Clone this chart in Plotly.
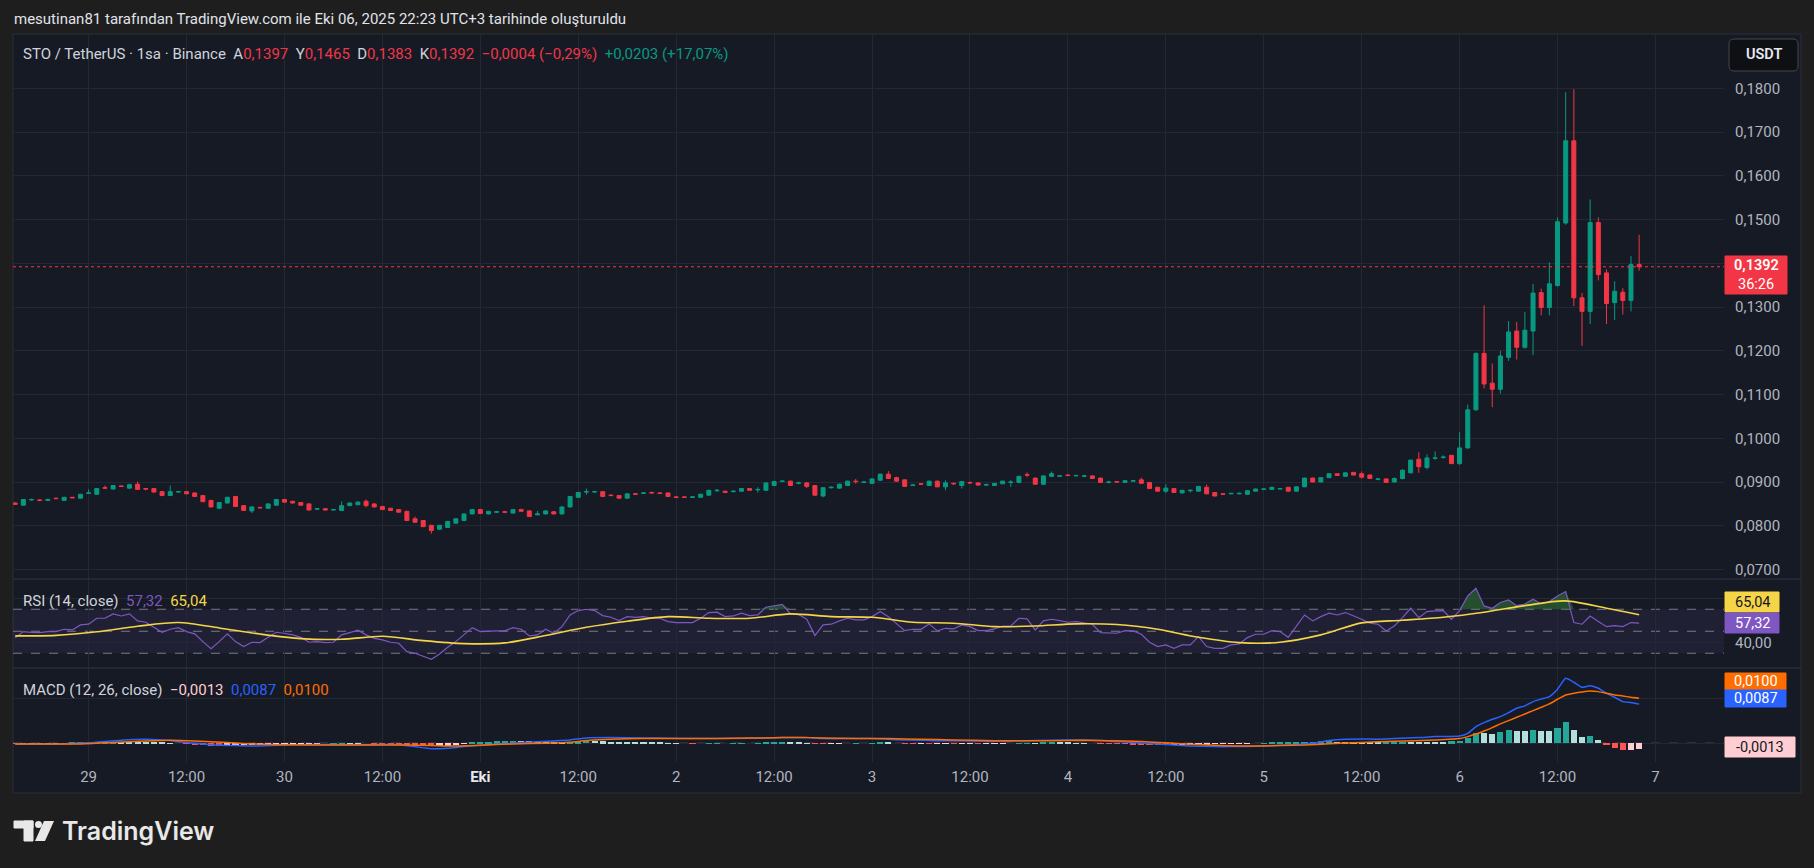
import plotly.graph_objects as go
import pandas as pd

# ---------------- DATA ----------------
start_time = "2025-09-28 15:00"
n_candles = 200

open_ = [.0852,.0847,.0859,.0859,.0858,.0863,.0858,.0865,.0863,.0874,.0872,.0887,.0884,.0891,.0886,.0895,.0885,.0885,.0878,.0869,
         .0877,.0878,.0875,.0869,.0858,.0840,.0852,.0867,.0846,.0834,.0842,.0840,.0847,.0860,.0856,.0853,.0850,.0838,.0839,.0836,
         .0835,.0846,.0848,.0856,.0850,.0844,.0840,.0837,.0833,.0816,.0812,.0801,.0792,.0796,.0806,.0812,.0827,.0837,.0827,.0831,
         .0832,.0829,.0837,.0834,.0825,.0827,.0832,.0827,.0843,.0865,.0877,.0877,.0878,.0870,.0869,.0863,.0873,.0874,.0876,.0875,.0875,
         .0866,.0866,.0865,.0865,.0870,.0880,.0879,.0878,.0879,.0885,.0882,.0881,.0892,.0901,.0902,.0897,.0898,.0892,.0868,.0887,
         .0886,.0892,.0902,.0899,.0897,.0904,.0918,.0910,.0905,.0892,.0896,.0892,.0902,.0889,.0897,.0892,.0899,.0898,.0893,.0892,
         .0896,.0899,.0899,.0917,.0909,.0895,.0913,.0913,.0916,.0914,.0913,.0914,.0909,.0899,.0901,.0899,.0902,.0905,.0899,.0888,
         .0879,.0885,.0875,.0880,.0879,.0888,.0876,.0873,.0873,.0873,.0872,.0879,.0883,.0883,.0884,.0888,.0879,.0889,.0909,.0900,.0910,
         .0919,.0913,.0922,.0919,.0916,.0906,.0907,.0900,
         .0908,.0921,.0952,.0933,.0954,.0956,.0961,.0942,.0978,.1065,.1194,.1126,.1112,.1185,.1245,.1208,.1245,.1333,.1299,.1349,
         .1492,.1680,.1321,.1290,.1493,.1378,.1310,.1334,.1315,.1397]
high = [.0854,.0861,.0862,.0861,.0862,.0864,.0866,.0866,.0873,.0883,.0886,.0892,.0893,.0892,.0895,.0901,.0886,.0886,.0879,.0892,
        .0879,.0879,.0876,.0870,.0859,.0854,.0866,.0868,.0847,.0844,.0843,.0851,.0861,.0861,.0857,.0854,.0851,.0840,.0840,.0838,
        .0856,.0853,.0856,.0860,.0851,.0845,.0841,.0838,.0834,.0821,.0813,.0802,.0802,.0811,.0817,.0828,.0838,.0838,.0834,.0834,
        .0834,.0838,.0839,.0835,.0834,.0835,.0833,.0844,.0868,.0877,.0885,.0880,.0879,.0872,.0870,.0874,.0875,.0876,.0878,.0876,.0876,
        .0867,.0866,.0867,.0873,.0882,.0884,.0880,.0880,.0886,.0886,.0888,.0899,.0903,.0904,.0903,.0901,.0900,.0893,.0888,.0890,
        .0896,.0903,.0907,.0901,.0908,.0919,.0925,.0912,.0906,.0895,.0897,.0903,.0903,.0904,.0899,.0902,.0901,.0899,.0896,.0898,
        .0903,.0904,.0914,.0922,.0910,.0915,.0924,.0915,.0917,.0916,.0916,.0915,.0910,.0903,.0901,.0904,.0905,.0910,.0900,.0889,
        .0895,.0886,.0882,.0883,.0891,.0894,.0877,.0874,.0875,.0876,.0881,.0885,.0885,.0889,.0886,.0889,.0890,.0910,.0910,.0911,.0920,
        .0920,.0922,.0923,.0924,.0917,.0909,.0908,.0911,
        .0929,.0951,.0968,.0963,.0970,.0961,.0962,.1014,.1077,.1196,.1304,.1171,.1200,.1268,.1266,.1289,.1353,.1342,.1402,.1505,
        .1791,.1798,.1332,.1546,.1505,.1386,.1359,.1343,.1417,.1465]
low = [.0848,.0846,.0857,.0856,.0857,.0861,.0857,.0863,.0862,.0873,.0871,.0885,.0883,.0889,.0885,.0882,.0881,.0876,.0868,.0868,
       .0876,.0872,.0866,.0854,.0842,.0838,.0851,.0843,.0834,.0829,.0840,.0839,.0846,.0853,.0851,.0846,.0835,.0836,.0835,.0835,
       .0834,.0845,.0847,.0842,.0842,.0836,.0834,.0830,.0811,.0807,.0797,.0782,.0791,.0795,.0805,.0811,.0826,.0827,.0826,.0829,
       .0829,.0828,.0832,.0820,.0824,.0826,.0826,.0826,.0842,.0864,.0871,.0876,.0866,.0868,.0862,.0862,.0871,.0873,.0874,.0873,.0866,
       .0863,.0864,.0864,.0864,.0869,.0878,.0875,.0876,.0878,.0880,.0876,.0880,.0891,.0900,.0891,.0895,.0886,.0869,.0865,.0885,
       .0885,.0891,.0896,.0898,.0896,.0903,.0907,.0900,.0889,.0891,.0893,.0891,.0888,.0881,.0893,.0885,.0896,.0892,.0891,.0891,
       .0895,.0889,.0898,.0911,.0894,.0894,.0911,.0912,.0914,.0913,.0911,.0907,.0898,.0897,.0899,.0898,.0900,.0896,.0884,.0878,
       .0875,.0875,.0874,.0876,.0878,.0872,.0867,.0871,.0872,.0872,.0871,.0878,.0882,.0882,.0883,.0878,.0878,.0888,.0899,.0899,.0909,
       .0914,.0912,.0915,.0908,.0907,.0904,.0898,.0899,
       .0906,.0920,.0921,.0929,.0951,.0953,.0941,.0939,.0976,.1063,.1114,.1071,.1102,.1177,.1180,.1205,.1190,.1281,.1281,.1347,
       .1488,.1302,.1211,.1261,.1361,.1261,.1270,.1283,.1290,.1383]
close = [.0849,.0860,.0860,.0858,.0860,.0862,.0865,.0864,.0872,.0875,.0885,.0886,.0892,.0890,.0894,.0883,.0884,.0877,.0869,.0878,
         .0878,.0873,.0867,.0855,.0843,.0853,.0865,.0844,.0835,.0843,.0841,.0850,.0860,.0854,.0852,.0847,.0836,.0839,.0836,.0837,
         .0846,.0852,.0854,.0846,.0843,.0837,.0835,.0831,.0812,.0808,.0798,.0789,.0801,.0810,.0816,.0827,.0837,.0828,.0833,.0832,
         .0831,.0837,.0833,.0821,.0827,.0834,.0827,.0843,.0867,.0876,.0878,.0878,.0867,.0869,.0863,.0873,.0872,.0875,.0875,.0874,.0867,
         .0865,.0865,.0866,.0872,.0881,.0881,.0876,.0879,.0885,.0881,.0883,.0898,.0901,.0902,.0892,.0898,.0890,.0870,.0887,.0888,
         .0895,.0902,.0901,.0900,.0907,.0918,.0908,.0902,.0890,.0893,.0895,.0902,.0889,.0898,.0896,.0901,.0898,.0893,.0894,.0897,
         .0902,.0900,.0913,.0916,.0895,.0914,.0919,.0914,.0915,.0915,.0914,.0908,.0899,.0900,.0900,.0903,.0903,.0897,.0885,.0879,
         .0886,.0876,.0881,.0881,.0890,.0873,.0868,.0872,.0874,.0874,.0880,.0884,.0884,.0888,.0885,.0879,.0889,.0909,.0900,.0910,.0919,
         .0915,.0921,.0916,.0911,.0908,.0907,.0899,.0908,
         .0927,.0950,.0935,.0955,.0955,.0957,.0942,.0978,.1065,.1194,.1124,.1112,.1188,.1243,.1208,.1247,.1332,.1299,.1353,.1495,
         .1680,.1321,.1290,.1493,.1374,.1308,.1336,.1315,.1397,.1392]

rsi = [44,49.7,49,48.8,49.7,49.7,51.8,51.2,55.8,56.4,61.8,61.8,65.8,63.9,65.8,59.4,58.2,53.6,49.1,51.8,
       53.3,49.7,47.6,40.6,34.2,40.6,47.6,40.6,36.1,40,39.7,44.5,49.1,48.2,46.7,44.5,40,40.6,39.7,40,
       46.7,48.8,50.9,46.7,43.6,42.1,40,39.1,31.5,30,27.6,24.5,29.4,35.5,40.6,47.3,53.3,49.7,50.3,50.3,
       50.3,53.3,51.8,45.8,46.7,51.8,48.2,54.2,64.8,68.8,70,68.8,64.2,62.7,59.7,63.3,62.7,63.3,61.8,61.8,58.8,
       57.9,57.9,57.9,61.8,67,67.3,63.3,63.9,66.4,64.2,64.8,71.8,73,74.5,65.8,65.2,60.9,46.1,55.8,56.4,
       59.4,61.8,60.3,60.3,63.3,67.9,63.3,57.3,50.6,51.8,51.8,56.7,50.3,52.7,52.1,55.8,54.2,50.6,50.6,52.1,
       54.8,54.8,61.8,61.2,51.2,59.4,60.9,59.7,58.2,58.8,57.3,56.4,48.8,48.8,48.2,50.6,50.3,47.3,40,36.1,
       37.6,34.5,37.6,37.6,45.2,36.1,34.5,34.5,37.6,38.5,44.2,47.3,47.3,50.6,49.7,44.5,54.2,64.8,59.4,63.3,66.4,
       64.8,67,64.2,60.9,57.3,56.4,50.3,54.8,62.4,70.9,62.4,67.9,68.5,68.8,60.9,68.8,82.1,89.1,73,70.9,
       76.1,78.5,73.3,74.8,79.1,74.8,77,82.1,86.1,57.9,56.4,63.9,58.8,54.2,55.2,54.2,57.9,57.32]

rsi_ma_idx = [0,5,10,15,20,25,30,35,40,45,50,55,60,65,70,75,80,85,90,95,100,105,110,115,120,
              125,130,135,140,145,150,155,160,165,170,175,180,185,190,195,199]
rsi_ma = [45.8,46.3,49.5,54.5,57.9,53,47.5,43.3,42.7,45.5,41.5,38.8,39.4,46.1,53.6,59.1,63.3,61.8,61.8,65.8,63.3,62.7,58.2,57.3,54.2,
          54.8,56.7,56.1,51.8,44.5,39.7,40,46.7,57.6,60,62.7,67.3,73.3,77.6,70.9,65.04]

macd_idx = [0,5,9,13,16,19,21,24,27,29,32,35,40,44,47,49,51,53,55,58,62,66,68,70,73,77,80,84,90,94,97,99,105,107,109,113,117,
            121,125,129,131,134,137,140,142,144,147,149,152,155,158,160,161,163,165,167,169,172,174,177,
            178,179,180,181,182,183,184,185,186,187,188,189,190,191,192,193,194,195,196,197,198,199]
macd_line = [-0.0002,-0.0002,0.0001,0.0007,0.0009,0.0006,0.00015,-0.0003,-0.0005,-0.0006,-0.00045,-0.0003,-0.0003,-0.0003,-0.0003,
             -0.00074,-0.0012,-0.0011,-0.00074,-0.0003,0.00015,0.00052,0.00074,0.0012,0.00126,0.0012,0.0011,0.00104,0.0011,0.0013,
             0.00126,0.00104,0.00104,0.00089,0.00074,0.00059,0.00052,
             0.00044,0.0006,0.00074,0.00074,0.00052,0.00015,-0.00015,-0.00037,-0.0006,-0.00074,-0.00074,-0.00067,-0.00044,-0.00015,
             0.0003,0.0006,0.00089,0.00096,0.00089,0.00104,0.00126,0.00148,0.00163,
             0.00222,0.0037,0.00459,0.00533,0.00593,0.00681,0.00778,0.0083,0.00926,0.00985,0.01037,0.012,0.01444,0.01356,0.01244,
             0.01281,0.01222,0.01111,0.01022,0.00926,0.00904,0.0087]

signal_idx = [0,8,12,16,19,22,26,29,32,36,40,44,48,51,54,57,61,65,68,70,73,77,80,84,88,92,96,99,103,107,111,115,120,
              127,131,134,138,141,144,147,150,153,155,158,161,165,169,174,177,
              178,179,180,181,182,183,184,185,186,187,188,189,190,191,192,193,194,195,196,197,198,199]
signal_line = [-0.00015,-0.00015,0.0002,0.00052,0.00067,0.00052,0.00015,-0.00015,-0.0003,-0.00037,-0.00037,-0.00037,-0.0004,
               -0.0005,-0.0006,-0.00044,-0.00015,0.0,0.00022,0.0006,0.0009,0.00104,0.00104,0.00105,0.0011,0.0012,0.0013,0.0012,
               0.00104,0.00104,0.00089,0.00074,0.00059,
               0.00059,0.00067,0.00059,0.0004,0.0001,-0.0002,-0.00044,-0.0006,-0.0006,-0.0005,-0.0004,-0.0001,0.0002,0.00044,
               0.00074,0.00104,
               0.00148,0.00207,0.00274,0.00348,0.0043,0.00504,0.00578,0.00652,0.00726,0.008,0.00874,0.00978,0.01074,0.01111,
               0.01141,0.01163,0.01148,0.01111,0.01074,0.01052,0.01022,0.0100]

macd_hist = [-0.00005,-0.00005,-0.00004,-0.00004,-0.00003,-0.00003,-0.00002,
             0.0001,0.00015,0.0002,0.00025,0.0003,0.00035,
             0.0003,0.00028,0.00025,0.0002,0.00015,0.0001,
             0.00005,0.0,-0.00005,
             -0.0002,-0.0004,-0.0005,-0.0006,-0.0005,-0.00045,
             -0.0004,-0.00035,-0.0003,-0.00025,-0.0002,-0.00015,-0.0001,-0.00008,-0.00005,-0.00003,0.0,0.00002,0.00003,
             0.00003,0.00002,0.0,-0.00002,-0.00005,-0.0001,
             -0.0002,-0.0004,-0.0005,-0.0006,-0.0007,
             -0.0006,-0.0005,-0.0003,-0.0001,
             0.0001,0.0002,0.0003,0.0004,0.0005,0.0006,
             0.0005,0.0004,0.0003,0.00025,0.0002,0.0002,
             0.0003,0.0004,0.0005,0.0005,0.0004,
             0.00035,0.0003,0.00025,0.0002,0.00015,0.0001,0.0001,0.00005,
             0.00003,0.0,-0.00002,0.0,0.00002,0.00003,0.0,0.00002,0.00005,0.0,0.00005,
             0.0001,0.00015,0.0002,0.00015,
             0.0001,0.00005,
             -0.0001,-0.00015,-0.0001,
             -0.00005,0.0,0.00002,0.0,0.00003,
             0.0001,0.00008,
             0.0,-0.00005,-0.0001,-0.00008,-0.00012,-0.0001,-0.00008,-0.0001,-0.00005,-0.00005,-0.0001,-0.00008,-0.00005,
             -0.00003,0.0,0.00003,0.00005,0.00005,0.00008,0.0001,0.0001,0.00008,0.00005,0.00003,0.0,-0.00005,-0.0001,-0.00012,-0.00015,
             -0.0002,-0.00025,-0.0003,-0.00035,-0.0004,-0.0004,
             -0.00035,-0.0003,-0.00025,-0.0002,-0.00015,-0.0001,-0.00008,-0.00005,-0.00002,0.0,
             0.00005,0.0001,0.00012,0.00015,0.0002,0.00025,0.0003,0.0004,0.0005,
             0.0003,0.00025,0.0002,0.00015,0.0001,0.0001,0.00015,0.0002,
             0.0003,0.0003,0.0003,0.0003,0.0003,0.0003,0.0004,
             0.0006,0.0011,0.0022,0.0022,0.0021,0.0025,0.003,0.0027,0.0027,0.003,0.0027,0.0027,0.0035,0.0048,0.003,
             0.0015,0.0017,0.0007,-0.0003,-0.001,-0.0016,-0.0014,-0.0013]

tick_times = ["2025-09-29 00:00","2025-09-29 12:00","2025-09-30 00:00","2025-09-30 12:00","2025-10-01 00:00",
              "2025-10-01 12:00","2025-10-02 00:00","2025-10-02 12:00","2025-10-03 00:00","2025-10-03 12:00",
              "2025-10-04 00:00","2025-10-04 12:00","2025-10-05 00:00","2025-10-05 12:00","2025-10-06 00:00",
              "2025-10-06 12:00","2025-10-07 00:00"]
tick_labels = ["29","12:00","30","12:00","<b><span style='color:#e6e8ee'>Eki</span></b>","12:00","2","12:00","3","12:00",
               "4","12:00","5","12:00","6","12:00","7"]
price_ticks = [0.07,0.08,0.09,0.10,0.11,0.12,0.13,0.14,0.15,0.16,0.17,0.18]
rsi_ticks = [40, 80]
rsi_tick_labels = ["40,00", ""]

title_text = "mesutinan81 tarafından TradingView.com ile Eki 06, 2025 22:23 UTC+3 tarihinde oluşturuldu"
last_price = 0.1392

# ---------------- GEOMETRY / STYLE ----------------
W, H = 1814, 868
def fx(x): return x / W
def fy(y): return 1 - y / H

UP = "#089981"
DOWN = "#f23645"
GRID = "#242833"
PANEL = "#161a25"
OUTER = "#1e1e1e"
SEP = "#2a2e39"
AXTXT = "#b2b5be"
FONT = "Roboto, Arial, sans-serif"
TS = 15   # text size

times = pd.date_range(start_time, periods=n_candles, freq="h")
x_left = pd.Timestamp(start_time) - pd.Timedelta(minutes=16)
x_right = pd.Timestamp(start_time) + pd.Timedelta(hours=209.4)

fig = go.Figure()

fig.add_trace(go.Candlestick(
    x=times, open=open_, high=high, low=low, close=close,
    increasing=dict(line=dict(color=UP, width=1), fillcolor=UP),
    decreasing=dict(line=dict(color=DOWN, width=1), fillcolor=DOWN),
    xaxis="x", yaxis="y", showlegend=False, hoverinfo="skip"))

# RSI overbought fill
rsi_cap = [max(v, 70) for v in rsi]
fig.add_trace(go.Scatter(x=times, y=[70]*n_candles, mode="lines", line=dict(width=0, color="rgba(0,0,0,0)"),
                         xaxis="x", yaxis="y2", showlegend=False, hoverinfo="skip"))
fig.add_trace(go.Scatter(x=times, y=rsi_cap, mode="lines", line=dict(width=0, color="rgba(0,0,0,0)"),
                         fill="tonexty", fillcolor="rgba(56,142,60,0.45)",
                         xaxis="x", yaxis="y2", showlegend=False, hoverinfo="skip"))
fig.add_trace(go.Scatter(x=times, y=rsi, mode="lines", line=dict(color="#7e57c2", width=1.2),
                         xaxis="x", yaxis="y2", showlegend=False, hoverinfo="skip"))
fig.add_trace(go.Scatter(x=[times[i] for i in rsi_ma_idx], y=rsi_ma, mode="lines",
                         line=dict(color="#f5d547", width=1.6, shape="spline", smoothing=0.8),
                         xaxis="x", yaxis="y2", showlegend=False, hoverinfo="skip"))

# MACD histogram colours
hist_colors = []
prev = 0.0
for h in macd_hist:
    if h >= 0:
        hist_colors.append("#26a69a" if h > prev else "#b2dfdb")
    else:
        hist_colors.append("#ff5252" if h < prev else "#ffcdd2")
    prev = h
fig.add_trace(go.Bar(x=times, y=macd_hist, marker=dict(color=hist_colors, line=dict(width=0)),
                     width=0.75*3600*1000, xaxis="x", yaxis="y3", showlegend=False, hoverinfo="skip"))
fig.add_trace(go.Scatter(x=[times[i] for i in macd_idx], y=macd_line, mode="lines",
                         line=dict(color="#2962ff", width=1.5, shape="spline", smoothing=0.5),
                         xaxis="x", yaxis="y3", showlegend=False, hoverinfo="skip"))
fig.add_trace(go.Scatter(x=[times[i] for i in signal_idx], y=signal_line, mode="lines",
                         line=dict(color="#ff6d00", width=1.5, shape="spline", smoothing=0.5),
                         xaxis="x", yaxis="y3", showlegend=False, hoverinfo="skip"))

shapes = []
# panel
shapes.append(dict(type="rect", xref="paper", yref="paper", x0=fx(13), x1=fx(1801), y0=fy(793), y1=fy(34),
                   fillcolor=PANEL, line=dict(color=SEP, width=1), layer="below"))
# RSI band
shapes.append(dict(type="rect", xref="x domain", yref="y2", x0=0, x1=1, y0=30, y1=70,
                   fillcolor="rgba(126,87,194,0.10)", line=dict(width=0), layer="below"))
for lvl in (70, 50, 30):
    shapes.append(dict(type="line", xref="x domain", yref="y2", x0=0, x1=1, y0=lvl, y1=lvl,
                       line=dict(color="#787b86", width=1, dash="dash"), layer="below"))
# MACD zero line
shapes.append(dict(type="line", xref="x domain", yref="y3", x0=0, x1=1, y0=0, y1=0,
                   line=dict(color="#787b86", width=1, dash="dash"), layer="below"))
# pane separators
for yy in (579, 668):
    shapes.append(dict(type="line", xref="paper", yref="paper", x0=fx(13), x1=fx(1801), y0=fy(yy), y1=fy(yy),
                       line=dict(color=SEP, width=1.5), layer="above"))
# last price dotted line
shapes.append(dict(type="line", xref="x domain", yref="y", x0=0, x1=1, y0=last_price, y1=last_price,
                   line=dict(color=DOWN, width=1, dash="dot"), layer="above"))

def box(x0, y0, x1, y1, fill, line=None):
    shapes.append(dict(type="rect", xref="paper", yref="paper", x0=fx(x0), x1=fx(x1), y0=fy(y1), y1=fy(y0),
                       fillcolor=fill, line=dict(color=line or fill, width=1), layer="above"))

# USDT rounded box
r = 5
ux0, ux1, uy0, uy1 = 1729, 1798, 39, 71
path = (f"M {fx(ux0+r)},{fy(uy0)} L {fx(ux1-r)},{fy(uy0)} Q {fx(ux1)},{fy(uy0)} {fx(ux1)},{fy(uy0+r)} "
        f"L {fx(ux1)},{fy(uy1-r)} Q {fx(ux1)},{fy(uy1)} {fx(ux1-r)},{fy(uy1)} L {fx(ux0+r)},{fy(uy1)} "
        f"Q {fx(ux0)},{fy(uy1)} {fx(ux0)},{fy(uy1-r)} L {fx(ux0)},{fy(uy0+r)} Q {fx(ux0)},{fy(uy0)} {fx(ux0+r)},{fy(uy0)} Z")
shapes.append(dict(type="path", xref="paper", yref="paper", path=path, fillcolor="#0f1014",
                   line=dict(color="#434651", width=1), layer="above"))

box(1725, 256, 1787, 294, DOWN)
box(1725, 592, 1779, 612, "#f5d547")
box(1725, 613, 1779, 633, "#7e57c2")
box(1725, 673, 1786, 690, "#ff6d00")
box(1725, 690, 1786, 707, "#2962ff")
box(1725, 737, 1795, 757, "#ffcdd2")

# TradingView logo
LOGO = "#e8e8e8"
box(14, 821, 33, 828, LOGO)
box(24, 821, 33, 841, LOGO)
shapes.append(dict(type="circle", xref="paper", yref="paper", x0=fx(35), x1=fx(42), y0=fy(828), y1=fy(821),
                   fillcolor=LOGO, line=dict(color=LOGO, width=0), layer="above"))
shapes.append(dict(type="path", xref="paper", yref="paper",
                   path=f"M {fx(44)},{fy(821)} L {fx(54)},{fy(821)} L {fx(45)},{fy(841)} L {fx(35)},{fy(841)} Z",
                   fillcolor=LOGO, line=dict(color=LOGO, width=0), layer="above"))

sp = "\u00a0"
R = "#f23645"
G = "#089981"
TXT = "#d1d4dc"
legend_text = (f"STO / TetherUS · 1sa · Binance{sp*2}A<span style='color:{R}'>0,1397</span>{sp*2}"
               f"Y<span style='color:{R}'>0,1465</span>{sp*2}D<span style='color:{R}'>0,1383</span>{sp*2}"
               f"K<span style='color:{R}'>0,1392</span>{sp*2}<span style='color:{R}'>−0,0004 (−0,29%)</span>{sp*2}"
               f"<span style='color:{G}'>+0,0203 (+17,07%)</span>")
rsi_text = (f"RSI (14, close){sp*2}<span style='color:#7e57c2'>57,32</span>{sp*2}"
            f"<span style='color:#f5d547'>65,04</span>")
macd_text = (f"MACD (12, 26, close){sp*2}<span style='color:#ffcdd2'>−0,0013</span>{sp*2}"
             f"<span style='color:#2962ff'>0,0087</span>{sp*2}<span style='color:#ff6d00'>0,0100</span>")

def ann(x, y, text, size=TS, color=TXT, xanchor="left", weight=None, family=FONT):
    f = dict(size=size, color=color, family=family)
    if weight:
        f["weight"] = weight
    return dict(xref="paper", yref="paper", x=fx(x), y=fy(y), text=text, showarrow=False,
                xanchor=xanchor, yanchor="middle", font=f)

annotations = [
    ann(12, 19, title_text, color="#e0e3eb"),
    ann(21, 54, legend_text),
    ann(21, 601, rsi_text),
    ann(21, 690, macd_text),
    ann(1763.5, 55, "USDT", size=14.5, color="#e8eaf0", xanchor="center", weight=600),
    ann(1756, 265, "0,1392", size=14.5, color="#ffffff", xanchor="center", weight=600),
    ann(1756, 284, "36:26", size=14.5, color="#ffffff", xanchor="center"),
    ann(1752, 602, "65,04", size=14.5, color="#131722", xanchor="center"),
    ann(1752, 623, "57,32", size=14.5, color="#ffffff", xanchor="center"),
    ann(1755.5, 681.5, "0,0100", size=14.5, color="#ffffff", xanchor="center"),
    ann(1755.5, 698.5, "0,0087", size=14.5, color="#ffffff", xanchor="center"),
    ann(1760, 747, "-0,0013", size=14.5, color="#131722", xanchor="center"),
    ann(60, 831, "TradingView", size=25, color=LOGO, weight=600, family="Inter, Roboto, sans-serif"),
]

axis_common = dict(showline=False, zeroline=False, ticks="", automargin=False, fixedrange=True)

fig.update_layout(
    width=W, height=H, margin=dict(l=0, r=0, t=0, b=0),
    paper_bgcolor=OUTER, plot_bgcolor="rgba(0,0,0,0)",
    font=dict(family=FONT, color=AXTXT, size=14),
    separators=",.",
    showlegend=False, hovermode=False, dragmode=False,
    bargap=0,
    xaxis=dict(domain=[fx(13), fx(1724)], anchor="y3", type="date", range=[x_left, x_right],
               tickvals=tick_times, ticktext=tick_labels, showgrid=True, gridcolor=GRID, gridwidth=1,
               tickfont=dict(size=15, color=AXTXT), rangeslider=dict(visible=False),
               ticklabelstandoff=4, **axis_common),
    yaxis=dict(domain=[fy(579), fy(34)], anchor="x", side="right", range=[0.06783, 0.19241],
               tickvals=price_ticks, tickformat=".4f", showgrid=True, gridcolor=GRID,
               tickfont=dict(size=15, color=AXTXT), ticklabelstandoff=10, **axis_common),
    yaxis2=dict(domain=[fy(668), fy(579)], anchor="x", side="right", range=[16.6, 97.5],
                tickvals=rsi_ticks, ticktext=rsi_tick_labels, showgrid=True, gridcolor=GRID,
                tickfont=dict(size=15, color=AXTXT), ticklabelstandoff=10, **axis_common),
    yaxis3=dict(domain=[fy(762), fy(668)], anchor="x", side="right", range=[-0.00416, 0.01673],
                tickvals=[0, 0.01], showticklabels=False, showgrid=True, gridcolor=GRID, **axis_common),
    shapes=shapes,
    annotations=annotations,
)

fig.write_html(
    "out.html",
    config={"displayModeBar": False, "staticPlot": False},
    post_script="document.body.style.margin='0';document.body.style.padding='0';"
                "document.documentElement.style.overflow='hidden';document.body.style.background='#1e1e1e';",
)
